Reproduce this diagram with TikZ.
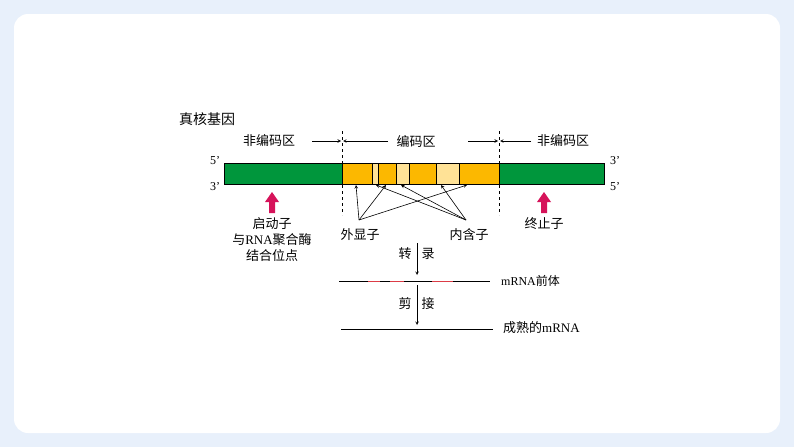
\documentclass[tikz,border=0pt]{standalone}
\usepackage{fontspec}
\newfontfamily\cjk{Noto Sans CJK SC}
\setmainfont{Liberation Serif}
\definecolor{seg}{RGB}{220,60,70}
\begin{document}
\begin{tikzpicture}[x=1pt,y=-1pt,
  lab/.style={font=\cjk\fontsize{13}{15}\selectfont, inner sep=0},
  ser/.style={font=\fontsize{12}{13}\selectfont, inner sep=0},
  thin/.style={line width=0.6pt},
  red arrow/.style={draw=none, fill={rgb,255:red,214;green,19;blue,90}}]
\fill[fill={rgb,255:red,232;green,240;blue,251}] (0,0) rectangle (794,447);
\fill[white, rounded corners=14pt] (14,14) rectangle (780,433);
% bar
\draw[fill={rgb,255:red,0;green,150;blue,60}] (224,163) rectangle (342,184);
\draw[fill={rgb,255:red,0;green,150;blue,60}] (499,163) rectangle (604,184);
\draw[fill={rgb,255:red,252;green,184;blue,0}] (342,163) rectangle (499,184);
\foreach \a/\b in {372/378,396/409,436/459}
  \draw[fill={rgb,255:red,255;green,226;blue,150}] (\a,163) rectangle (\b,184);
\draw[dashed, thin] (342,131) -- (342,215);
\draw[dashed, thin] (499,131) -- (499,215);
\node[lab, font=\cjk\fontsize{14}{16}\selectfont] (t0) at (207,119) {真核基因};
\node[lab] (n1) at (269,141) {非编码区};
\node[lab] (n2) at (416,141) {编码区};
\node[lab] (n3) at (563,141) {非编码区};
\draw[thin,->,>=stealth] (312,141) -- (341,141);
\draw[thin,->,>=stealth] (388,141) -- (343,141);
\draw[thin,->,>=stealth] (468,141) -- (498,141);
\draw[thin,->,>=stealth] (531,141) -- (500,141);
\node[ser] at (215,161) {5'};
\node[ser] at (215,187) {3'};
\node[ser] at (615,161) {3'};
\node[ser] at (615,187) {5'};
% red arrows
\foreach \x in {272,544}
  \fill[red arrow] (\x-3,213) -- (\x-3,202) -- (\x-7,202) -- (\x,192) -- (\x+7,202) -- (\x+3,202) -- (\x+3,213) -- cycle;
\node[lab] (p) at (272,224) {启动子};
\node[lab] at (272,240) {与\fontspec{Liberation Serif}RNA\cjk 聚合酶};
\node[lab] at (272,256) {结合位点};
\node[lab] (z) at (544,224) {终止子};
\node[lab] (ex) at (360,235) {外显子};
\node[lab] (in) at (469,235) {内含子};
\foreach \x in {356,386,467} \draw[thin,->,>=stealth] (359,220) -- (\x,185);
\foreach \x in {376,401,441} \draw[thin,->,>=stealth] (466,220) -- (\x,185);
% transcription
\node[lab] at (405,254) {转};
\node[lab] at (428,254) {录};
\draw[thin,->,>=stealth] (417,243) -- (417,275);
\draw[line width=0.8pt] (339,281) -- (490,281);
\foreach \a/\b in {368/380,390/404,432/453}
  \draw[line width=1pt, seg] (\a,281) -- (\b,281);
\node[ser, anchor=west] at (501,281) {mRNA\cjk 前体};
\node[lab] at (405,304) {剪};
\node[lab] at (428,304) {接};
\draw[thin,->,>=stealth] (417,285) -- (417,325);
\draw[line width=0.8pt] (341,329) -- (493,329);
\node[lab, anchor=west] at (503,328) {成熟的\fontspec{Liberation Serif}mRNA};
\end{tikzpicture}
\end{document}
